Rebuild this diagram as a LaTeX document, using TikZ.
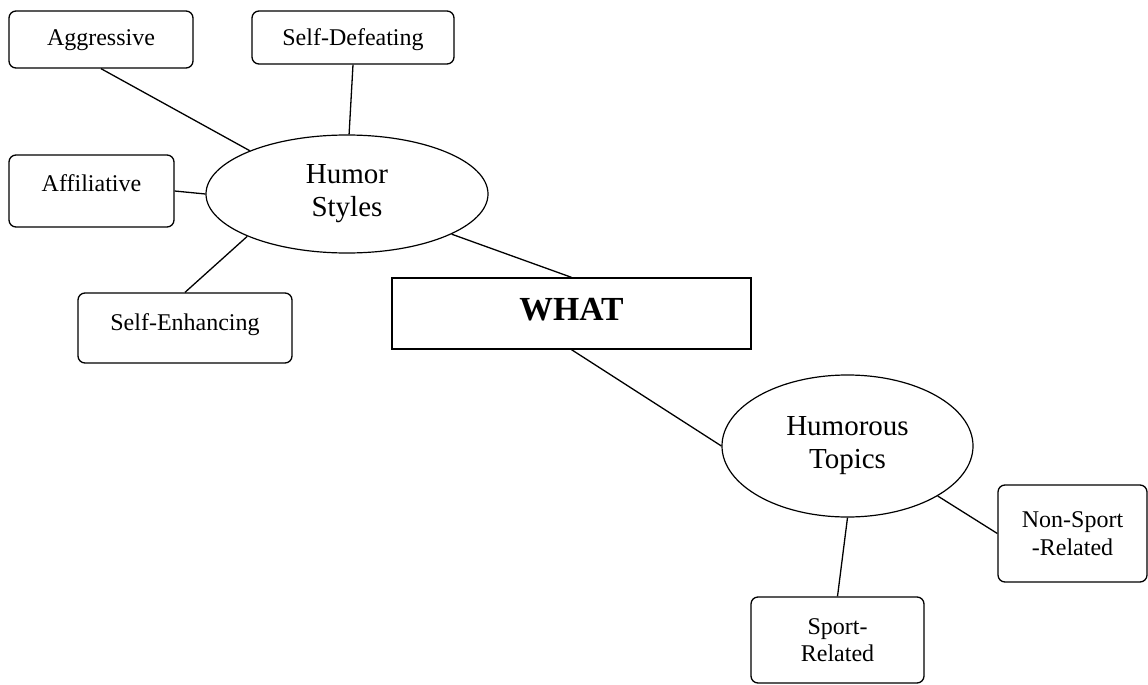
\documentclass[tikz,border=0pt]{standalone}
\usepackage{fontspec}
\setmainfont{Liberation Serif}
\usetikzlibrary{shapes.geometric}
\begin{document}
\begin{tikzpicture}[x=1pt,y=-1pt,
  box/.style={draw, rounded corners=7pt, line width=1.3pt, inner sep=0pt, font=\fontsize{24}{28}\selectfont},
  oval/.style={draw, ellipse, line width=1.2pt, inner sep=0pt, font=\fontsize{29}{33}\selectfont, align=center},
  link/.style={line width=1.3pt},
  up/.style={text height=16pt, text depth=#1}]
\useasboundingbox (0,0) rectangle (1148,685);
% nodes
\node[box, up=3pt, minimum width=184pt, minimum height=57pt] (ag) at (101,39.5) {Aggressive};
\node[box, up=0pt, minimum width=202pt, minimum height=53pt] (sd) at (353,37.5) {Self-Defeating};
\node[box, up=16pt, minimum width=165pt, minimum height=72pt] (af) at (91.5,191) {Affiliative};
\node[box, up=12pt, minimum width=214pt, minimum height=70pt] (se) at (185,328) {Self-Enhancing};
\node[oval, minimum width=282pt, minimum height=118pt] (hs) at (347,194) {Humor\\Styles};
\node[draw, line width=1.3pt, inner sep=0pt, minimum width=359pt, minimum height=71pt,
      text height=22.3pt, text depth=9pt, font=\fontsize{33.7}{38}\selectfont\bfseries] (what) at (571.5,313.5) {WHAT};
\node[oval, minimum width=251pt, minimum height=142pt] (ht) at (847.5,446) {Humorous\\Topics};
\node[box, align=center, minimum width=149pt, minimum height=97pt] (ns) at (1072.5,533.5) {Non-Sport\\-Related};
\node[box, align=center, minimum width=173pt, minimum height=86pt, font=\fontsize{24}{27}\selectfont] (sp) at (837.5,640) {Sport-\\Related};
% connectors
\draw[link] (ag.south) -- (hs.156.7);
\draw[link] (sd.south) -- (hs.88);
\draw[link] (af.east) -- (hs.west);
\draw[link] (se.north) -- (hs.203);
\draw[link] (hs.-21) -- (what.north);
\draw[link] (what.south) -- (ht.west);
\draw[link] (ht.south) -- (sp.north);
\draw[link] (ht.-29.5) -- (ns.west);
\end{tikzpicture}
\end{document}
